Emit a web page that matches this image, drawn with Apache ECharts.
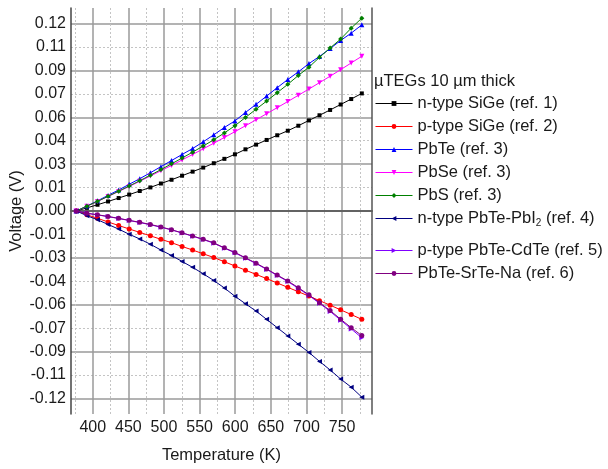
<!DOCTYPE html>
<html><head><meta charset="utf-8">
<script src="https://cdn.jsdelivr.net/npm/echarts@6/dist/echarts.min.js"></script>
<style>html,body{margin:0;padding:0;background:#fff}#c{width:608px;height:469px}</style>
</head><body><div id="c"></div>
<script>
var temps = [377, 391.8, 406.7, 421.5, 436.4, 451.2, 466.0, 480.9, 495.7, 510.6, 525.4, 540.2, 555.1, 569.9, 584.8, 599.6, 614.4, 629.3, 644.1, 659.0, 673.8, 688.6, 703.5, 718.3, 733.2, 748.0, 762.8, 777.7];
var nSiGe = [0, 0.0020, 0.0040, 0.0061, 0.0083, 0.0105, 0.0128, 0.0151, 0.0176, 0.0200, 0.0226, 0.0252, 0.0278, 0.0306, 0.0334, 0.0363, 0.0395, 0.0425, 0.0455, 0.0485, 0.0514, 0.0546, 0.0580, 0.0613, 0.0647, 0.0682, 0.0717, 0.0753];
var pSiGe = [0, -0.0024, -0.0047, -0.0070, -0.0093, -0.0115, -0.0137, -0.0159, -0.0181, -0.0203, -0.0227, -0.0250, -0.0274, -0.0298, -0.0325, -0.0352, -0.0379, -0.0406, -0.0433, -0.0461, -0.0489, -0.0517, -0.0545, -0.0574, -0.0603, -0.0633, -0.0663, -0.0694];
var pbTe = [0, 0.0032, 0.0065, 0.0100, 0.0135, 0.0171, 0.0207, 0.0245, 0.0284, 0.0323, 0.0362, 0.0400, 0.0443, 0.0488, 0.0535, 0.0577, 0.0631, 0.0683, 0.0736, 0.0790, 0.0842, 0.0891, 0.0944, 0.0990, 0.1040, 0.1092, 0.1139, 0.1192];
var pbSe = [0, 0.0030, 0.0061, 0.0093, 0.0125, 0.0157, 0.0190, 0.0224, 0.0258, 0.0292, 0.0327, 0.0362, 0.0398, 0.0434, 0.0471, 0.0508, 0.0546, 0.0584, 0.0623, 0.0662, 0.0701, 0.0741, 0.0781, 0.0822, 0.0863, 0.0905, 0.0948, 0.0991];
var pbS = [0, 0.0031, 0.0062, 0.0094, 0.0127, 0.0160, 0.0194, 0.0229, 0.0265, 0.0302, 0.0339, 0.0377, 0.0416, 0.0456, 0.0500, 0.0546, 0.0599, 0.0652, 0.0704, 0.0758, 0.0811, 0.0868, 0.0921, 0.0984, 0.1044, 0.1101, 0.1171, 0.1235];
var pbTePbI2 = [0, -0.0030, -0.0056, -0.0086, -0.0116, -0.0149, -0.0179, -0.0213, -0.0250, -0.0285, -0.0323, -0.0361, -0.0402, -0.0445, -0.0493, -0.0546, -0.0594, -0.0641, -0.0694, -0.0747, -0.0800, -0.0853, -0.0906, -0.0963, -0.1018, -0.1076, -0.1128, -0.1192];
var pbTeCdTe = [0, -0.0014, -0.0025, -0.0036, -0.0048, -0.0061, -0.0074, -0.0088, -0.0104, -0.0121, -0.0141, -0.0161, -0.0183, -0.0206, -0.0238, -0.0268, -0.0302, -0.0337, -0.0374, -0.0413, -0.0452, -0.0495, -0.0541, -0.0591, -0.0643, -0.0699, -0.0755, -0.0812];
var pbTeSrTeNa = [0, -0.0015, -0.0024, -0.0035, -0.0047, -0.0060, -0.0072, -0.0086, -0.0102, -0.0120, -0.0140, -0.0160, -0.0181, -0.0204, -0.0236, -0.0265, -0.0300, -0.0334, -0.0371, -0.0410, -0.0448, -0.0491, -0.0537, -0.0587, -0.0637, -0.0693, -0.0747, -0.0798];

var seriesNames = ['n-type SiGe (ref. 1)', 'p-type SiGe (ref. 2)', 'PbTe (ref. 3)', 'PbSe (ref. 3)', 'PbS (ref. 3)', 'n-type PbTe-PbI2 (ref. 4)', 'p-type PbTe-CdTe (ref. 5)', 'PbTe-SrTe-Na (ref. 6)'];
var seriesValues = [nSiGe, pSiGe, pbTe, pbSe, pbS, pbTePbI2, pbTeCdTe, pbTeSrTeNa];
var seriesColors = ['#000000', '#ff0000', '#0000ff', '#ff00ff', '#008000', '#000080', '#8000ff', '#800080'];
var seriesSymbols = ['rect', 'circle', 'triangle', 'triangle', 'diamond', 'triangle', 'triangle', 'circle'];
var seriesRotate = [0, 0, 0, 180, 0, 90, -90, 0];

var xLabelValues = [400, 450, 500, 550, 600, 650, 700, 750];
var xMinorValues = [375, 425, 475, 525, 575, 625, 675, 725, 775];
var yTickValues = [-0.12, -0.105, -0.09, -0.075, -0.06, -0.045, -0.03, -0.015, 0, 0.015, 0.03, 0.045, 0.06, 0.075, 0.09, 0.105, 0.12];
var yTickLabels = ['-0.12', '-0.11', '-0.09', '-0.07', '-0.06', '-0.04', '-0.03', '-0.01', '0.00', '0.01', '0.03', '0.04', '0.06', '0.07', '0.09', '0.11', '0.12'];
var yMajorValues = [-0.12, -0.09, -0.06, -0.03, 0, 0.03, 0.06, 0.09, 0.12];
var yMinorValues = [-0.105, -0.075, -0.045, -0.015, 0.015, 0.045, 0.075, 0.105];

var FONT = '"Liberation Sans", Arial, sans-serif';
var TXT = '#1a1a1a';

var series = seriesNames.map(function (name, i) {
  return {
    name: name, type: 'line',
    data: temps.map(function (t, k) { return [t, seriesValues[i][k]]; }),
    symbol: seriesSymbols[i], symbolRotate: seriesRotate[i],
    symbolSize: seriesSymbols[i] === 'rect' ? 4 : 5,
    showAllSymbol: true,
    lineStyle: { color: seriesColors[i], width: 1 },
    itemStyle: { color: seriesColors[i] },
    emphasis: { disabled: true },
    animation: false, z: 3 + i
  };
});

var legendCommon = {
  orient: 'vertical', left: 375, padding: 0,
  itemWidth: 37, itemHeight: 6, itemGap: 6,
  lineStyle: { width: 1 },
  textStyle: { fontFamily: FONT, fontSize: 16.5, color: TXT, lineHeight: 17,
    rich: { sub: { fontFamily: FONT, fontSize: 10, color: TXT, padding: [10, 0, 0, 0] } } },
  formatter: function (n) { return n.replace('PbI2', 'PbI{sub|2}'); },
  selectedMode: false
};

var chart = echarts.init(document.getElementById('c'), null, { renderer: 'canvas' });
chart.setOption({
  backgroundColor: '#fff',
  animation: false,
  title: { text: 'µTEGs 10 µm thick', left: 374, top: 73, padding: 0,
    textStyle: { fontFamily: FONT, fontSize: 16.5, fontWeight: 'normal', color: TXT } },
  legend: [
    Object.assign({}, legendCommon, { top: 95, data: seriesNames.slice(0, 6) }),
    Object.assign({}, legendCommon, { top: 242, data: seriesNames.slice(6) })
  ],
  grid: { left: 71, top: 8, right: 236, bottom: 53 },
  xAxis: [{
    type: 'value', min: 369.5, max: 792, position: 'bottom',
    name: 'Temperature (K)', nameLocation: 'middle', nameGap: 33,
    nameTextStyle: { fontFamily: FONT, fontSize: 16.5, color: TXT },
    axisLine: { show: true, lineStyle: { color: '#444', width: 1.5 } },
    axisTick: { show: false, customValues: xLabelValues },
    axisLabel: { customValues: xLabelValues, fontFamily: FONT, fontSize: 16, color: TXT, margin: 6 },
    splitLine: { show: true, lineStyle: { color: '#9a9a9a', width: 1.5 } }
  }, {
    type: 'value', min: 369.5, max: 792, position: 'top',
    axisLine: { show: true, lineStyle: { color: '#666', width: 1.5 } },
    axisTick: { show: false, customValues: xMinorValues },
    axisLabel: { show: false },
    splitLine: { show: true, lineStyle: { color: '#c4c4c4', width: 1, type: [2, 2] } }
  }],
  yAxis: [{
    type: 'value', min: -0.13, max: 0.13, position: 'left',
    name: 'Voltage (V)', nameLocation: 'middle', nameGap: 46,
    nameTextStyle: { fontFamily: FONT, fontSize: 16.5, color: TXT },
    axisLine: { show: true, lineStyle: { color: '#444', width: 1.5 } },
    axisTick: { show: false, customValues: yMajorValues },
    axisLabel: { customValues: yTickValues, fontFamily: FONT, fontSize: 16, color: TXT, margin: 5,
      formatter: function (v) {
        for (var i = 0; i < yTickValues.length; i++) {
          if (Math.abs(yTickValues[i] - v) < 1e-9) return yTickLabels[i];
        }
        return '';
      } },
    splitLine: { show: true, lineStyle: { color: '#9a9a9a', width: 1.5 } }
  }, {
    type: 'value', min: -0.13, max: 0.13, position: 'right',
    axisLine: { show: true, lineStyle: { color: '#555', width: 1.5 } },
    axisTick: { show: false, customValues: yMinorValues },
    axisLabel: { show: false },
    splitLine: { show: true, lineStyle: { color: '#c4c4c4', width: 1, type: [2, 2] } }
  }],
  series: series
});
</script></body></html>
